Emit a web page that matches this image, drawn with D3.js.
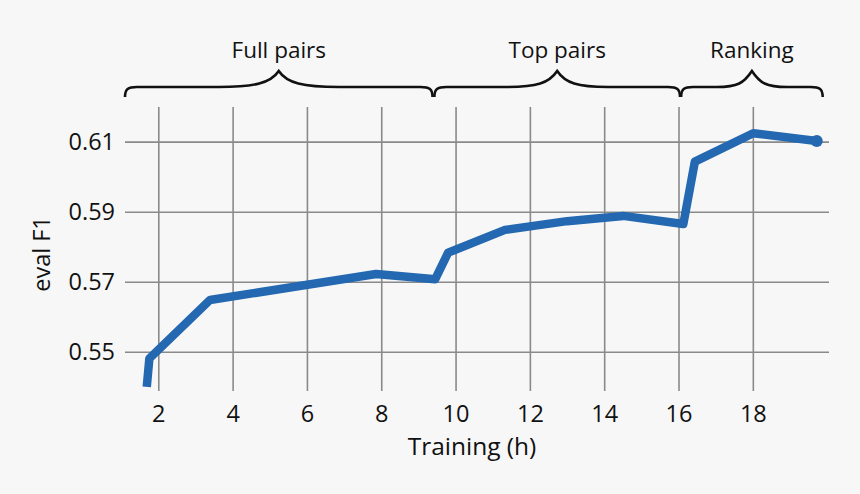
<!DOCTYPE html>
<html>
<head>
<meta charset="utf-8">
<script src="https://cdn.jsdelivr.net/npm/d3@7"></script>
<style>
  html, body { margin: 0; padding: 0; background: #f7f7f7; }
  svg { display: block; font-family: "Open Sans", "DejaVu Sans", sans-serif; }
</style>
</head>
<body>
<svg id="chart" width="860" height="494"></svg>
<script>
// ---- data ----
const hours = [1.69, 1.76, 3.39, 7.86, 9.45, 9.80, 11.33, 13.0, 14.51, 16.13, 16.44, 18.01, 19.72];
const evalF1 = [0.540, 0.5481, 0.5648, 0.5722, 0.5707, 0.5783, 0.5848, 0.5873, 0.5888, 0.5865, 0.6043, 0.6124, 0.6102];
const xTicks = [2, 4, 6, 8, 10, 12, 14, 16, 18];
const yTicks = [0.55, 0.57, 0.59, 0.61];
const phaseNames = ["Full pairs", "Top pairs", "Ranking"];
const phaseStart = [1.104, 9.43, 16.07];
const phaseEnd = [9.38, 16.04, 19.88];

// ---- layout ----
const svg = d3.select("#chart");
const W = 860, H = 494;
svg.append("rect").attr("width", W).attr("height", H).attr("fill", "#f7f7f7");

const mLeft = 125, mRight = 829, mTop = 107, mBottom = 391;
const x = d3.scaleLinear().domain([1.104, 20.05]).range([mLeft, mRight]);
const y = d3.scaleLinear().domain([0.5388, 0.6199]).range([mBottom, mTop]);

// x grid + axis
const xAxis = d3.axisBottom(x).tickValues(xTicks).tickFormat(d3.format("d"))
  .tickSize(-(mBottom - mTop)).tickPadding(14);
const gx = svg.append("g").attr("transform", `translate(0,${mBottom})`).call(xAxis);
gx.select(".domain").remove();
gx.selectAll(".tick line").attr("stroke", "#8a8a8a").attr("stroke-width", 1.6);
gx.selectAll(".tick text").attr("font-size", 23.5).attr("fill", "#111")
  .attr("font-family", "'Open Sans', sans-serif");

// y grid + axis
const yAxis = d3.axisLeft(y).tickValues(yTicks).tickFormat(d3.format(".2f"))
  .tickSize(-(mRight - mLeft)).tickPadding(10);
const gy = svg.append("g").attr("transform", `translate(${mLeft},0)`).call(yAxis);
gy.select(".domain").remove();
gy.selectAll(".tick line").attr("stroke", "#8a8a8a").attr("stroke-width", 1.6);
gy.selectAll(".tick text").attr("font-size", 23.5).attr("fill", "#111")
  .attr("font-family", "'Open Sans', sans-serif");

// axis titles
svg.append("text").attr("x", 472).attr("y", 455).attr("text-anchor", "middle")
  .attr("font-size", 24.5).attr("fill", "#111").text("Training (h)");
svg.append("text").attr("transform", "translate(50,254) rotate(-90)")
  .attr("text-anchor", "middle").attr("font-size", 23.5).attr("fill", "#111").text("eval F1");

// line
const pts = hours.map((h, i) => [h, evalF1[i]]);
const line = d3.line().x(d => x(d[0])).y(d => y(d[1]));
svg.append("path").datum(pts).attr("d", line)
  .attr("fill", "none").attr("stroke", "#2368b0").attr("stroke-width", 8.5)
  .attr("stroke-linejoin", "round").attr("stroke-linecap", "butt");
svg.append("circle").attr("cx", x(hours[hours.length - 1])).attr("cy", y(evalF1[evalF1.length - 1]))
  .attr("r", 6).attr("fill", "#2368b0");

// braces
const yEnd = 97, yFlat = 87, yTip = 71;
phaseNames.forEach((name, i) => {
  const x0 = x(phaseStart[i]), x1 = x(phaseEnd[i]);
  const xm = (x0 + x1) / 2;
  const half = (x1 - x0) / 2;
  const c = 0.3 * half + 14;
  const p = d3.path();
  p.moveTo(x0, yEnd);
  p.bezierCurveTo(x0, yFlat + 2, x0 + 3, yFlat, x0 + 12, yFlat);
  p.lineTo(xm - c, yFlat);
  p.bezierCurveTo(xm - c * 0.4, yFlat, xm - 8, yFlat - 4, xm, yTip);
  p.bezierCurveTo(xm + 8, yFlat - 4, xm + c * 0.4, yFlat, xm + c, yFlat);
  p.lineTo(x1 - 12, yFlat);
  p.bezierCurveTo(x1 - 3, yFlat, x1, yFlat + 2, x1, yEnd);
  svg.append("path").attr("d", p.toString()).attr("fill", "none")
    .attr("stroke", "#111").attr("stroke-width", 2.6);
  svg.append("text").attr("x", xm).attr("y", 58).attr("text-anchor", "middle")
    .attr("font-size", 22.5).attr("fill", "#111").text(name);
});
</script>
</body>
</html>
